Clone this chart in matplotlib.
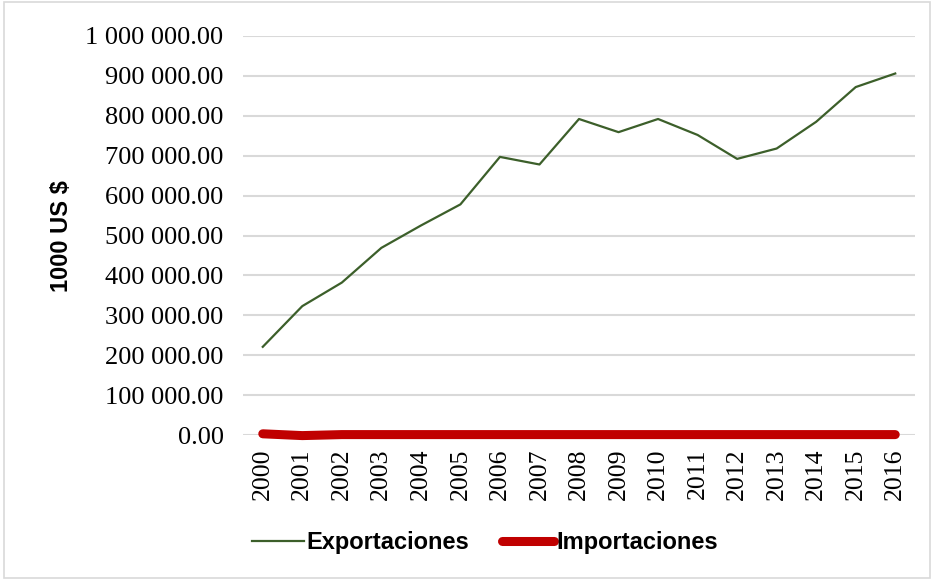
import matplotlib
matplotlib.use("Agg")
import matplotlib.pyplot as plt
from matplotlib.ticker import FuncFormatter
from matplotlib.patches import Rectangle

years = ["2000", "2001", "2002", "2003", "2004", "2005", "2006", "2007", "2008",
         "2009", "2010", "2011", "2012", "2013", "2014", "2015", "2016"]
exportaciones = [221000, 323000, 382000, 469000, 525000, 578000, 697000, 678000, 792000,
                 759000, 792000, 752000, 692000, 718000, 785000, 872000, 906000]
importaciones = [3000, -1500, 1000, 1000, 1000, 1000, 1000, 1000, 1000,
                 1000, 1000, 1000, 1000, 1000, 1000, 1000, 1000]
y_ticks = [0, 100000, 200000, 300000, 400000, 500000, 600000, 700000, 800000, 900000, 1000000]

fig = plt.figure(figsize=(9.34, 5.8), dpi=100)
ax = fig.add_axes([243/934, 1-435/580, (915-243)/934, (435-36)/580])

x = list(range(len(years)))
ax.plot(x, exportaciones, color="#3C5F2A", lw=1.6, label="Exportaciones", zorder=3)
ax.plot(x, importaciones, color="#C00000", lw=6.5, solid_capstyle="round",
        label="Importaciones", zorder=4, clip_on=False)

ax.set_xlim(-0.5, len(years) - 0.5)
ax.set_ylim(0, 1000000)
ax.set_yticks(y_ticks)
ax.yaxis.set_major_formatter(FuncFormatter(lambda v, p: f"{v:,.2f}".replace(",", " ")))
ax.set_xticks(x)
ax.set_xticklabels(years, rotation=90)

for lab in ax.get_yticklabels():
    lab.set_fontfamily("Liberation Serif")
    lab.set_fontsize(19)
for lab in ax.get_xticklabels():
    lab.set_fontfamily("Liberation Serif")
    lab.set_fontsize(18.5)

ax.grid(axis="y", color="#D9D9D9", lw=1.5, zorder=0)
ax.set_axisbelow(True)
for s in ax.spines.values():
    s.set_visible(False)
ax.tick_params(axis="both", length=0)
ax.tick_params(axis="y", pad=14)
ax.tick_params(axis="x", pad=10)

fig.text(62/934, 1-236/580, "1000 US $", rotation=90, ha="center", va="center",
         fontsize=17, fontweight="bold", family="Liberation Sans")

leg = fig.legend(loc="center", bbox_to_anchor=(485/934, 1-543/580), ncol=2, frameon=False,
                 prop={"family": "Liberation Sans", "weight": "bold", "size": 17},
                 handlelength=2.2, handletextpad=0.1, columnspacing=1.4)

fig.patches.append(Rectangle((0.004, 0.004), 0.992, 0.992, transform=fig.transFigure,
                             fill=False, edgecolor="#D9D9D9", lw=1.2))

fig.savefig("out.png", dpi=100)
